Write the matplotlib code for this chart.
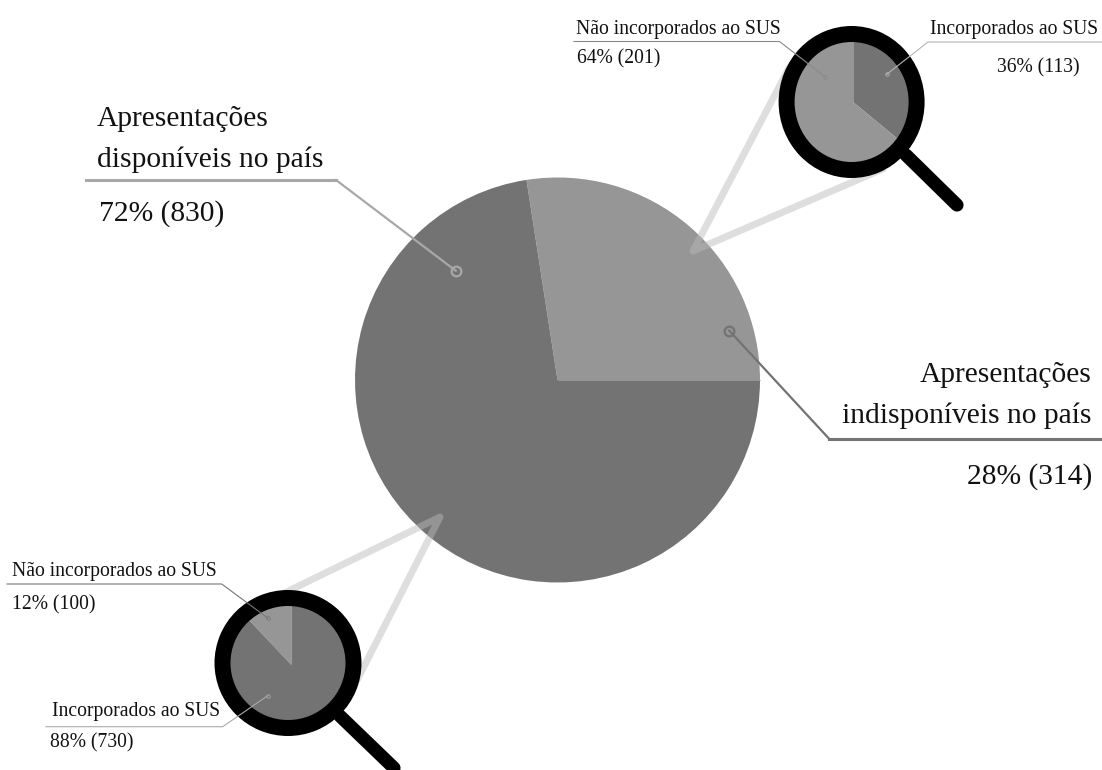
#!/usr/bin/python3

import matplotlib
matplotlib.use('Agg')
import matplotlib.pyplot as plt
from matplotlib.patches import Annulus

HEIGHT = 770
DARK = '#737373'
LIGHT = '#969696'

# counts per slice
main_values = [314, 830]
main_colors = [LIGHT, DARK]
top_values = [113, 201]
top_colors = [DARK, LIGHT]
bottom_values = [100, 730]
bottom_colors = [LIGHT, DARK]

title_left = ['Apresentações', 'disponíveis no país', '72% (830)']
title_right = ['Apresentações', 'indisponíveis no país', '28% (314)']
top_labels = ['Não incorporados ao SUS', '64% (201)', 'Incorporados ao SUS', '36% (113)']
bottom_labels = ['Não incorporados ao SUS', '12% (100)', 'Incorporados ao SUS', '88% (730)']

plt.rcParams['font.family'] = ['Liberation Serif', 'DejaVu Serif']

fig = plt.figure(figsize=(11.02, 7.70), dpi=100)
ax = fig.add_axes([0, 0, 1, 1])


def py(y):
    # positions below are measured from the top edge
    return HEIGHT - y


def beam(tip, end_a, end_b):
    # the pale cone running from the big pie to a magnifier
    ax.plot([end_a[0], tip[0], end_b[0]], [py(end_a[1]), py(tip[1]), py(end_b[1])],
            color='#bababa', alpha=0.48, lw=5, solid_capstyle='butt',
            solid_joinstyle='round', zorder=3)


def small_pie(values, colors, center, radius, counterclock):
    wedges, _ = ax.pie(values, colors=colors, center=(center[0], py(center[1])), radius=radius,
                       startangle=90, counterclock=counterclock, wedgeprops={'linewidth': 0})
    for w in wedges:
        w.set_zorder(4)


def magnifier(center, axes, width, handle_start, handle_end):
    ax.plot([handle_start[0], handle_end[0]], [py(handle_start[1]), py(handle_end[1])],
            color='black', lw=9.5, solid_capstyle='round', zorder=5)
    ax.add_patch(Annulus((center[0], py(center[1])), axes, width,
                         facecolor='black', edgecolor='none', zorder=5))


def leader(points, color, lw, dot_size=0, dot_lw=1.0):
    xs = [p[0] for p in points]
    ys = [py(p[1]) for p in points]
    ax.plot(xs, ys, color=color, lw=lw, solid_joinstyle='miter', zorder=6)
    ax.plot(xs[-1], ys[-1], 'o', ms=dot_size, mfc='none', mec=color, mew=dot_lw, zorder=6)


def label(x, y, text, size, ha='left'):
    ax.text(x, py(y), text, fontsize=size, ha=ha, va='baseline', color='#111111', zorder=7)


# Big pie
ax.pie(main_values, colors=main_colors, center=(557.5, py(380)), radius=202.5,
       startangle=0, counterclock=True, wedgeprops={'linewidth': 0})
ax.plot([557.5, 760], [py(380), py(380)], color='#a4a4a4', lw=0.5, zorder=2)

beam((693, 251), (790, 66), (885, 168))
beam((440, 517), (270, 600), (352, 690))

# Magnifier top right
small_pie(top_values, top_colors, (853, 102), 63, False)
ax.plot([853, 853], [py(102), py(42)], color='#a4a4a4', lw=0.5, zorder=4)
magnifier((851.6, 102), (73, 76), 16, (906, 155), (957, 205))

# Magnifier bottom left
small_pie(bottom_values, bottom_colors, (291.5, 665), 63, True)
magnifier((288, 663), (73.5, 73), 16, (340, 716), (394, 768))

# Leader lines
leader([(86, 180), (336, 180)], '#a8a8a8', 2.2)
leader([(336, 180), (455.7, 270.7)], '#a8a8a8', 1.6, 7, 1.6)
leader([(1102, 439), (829.3, 439)], '#737373', 2.2)
leader([(829.3, 439), (729.3, 330.7)], '#737373', 1.6, 7, 1.6)
leader([(574, 41.5), (779.5, 41.5), (825, 76.7)], '#8a8a8a', 0.8, 2.5, 0.6)
leader([(1102, 42), (928, 42), (886.7, 74.3)], '#b5b5b5', 0.8, 2.5, 0.6)
leader([(7, 584), (221.7, 584), (267.7, 618)], '#777777', 0.8, 2.5, 0.6)
leader([(46, 726.7), (222.7, 726.7), (267.7, 695.7)], '#aaaaaa', 0.8, 2.5, 0.6)

# Text
BIG = 21.25
SMALL = 14.1
label(97, 126, title_left[0], BIG)
label(97, 167, title_left[1], BIG)
label(99, 221, title_left[2], BIG)
label(1092, 382, title_right[0], BIG, ha='right')
label(1092, 423, title_right[1], BIG, ha='right')
label(1092, 484, title_right[2], BIG, ha='right')

label(576, 34, top_labels[0], SMALL)
label(577, 63, top_labels[1], SMALL)
label(1098.5, 34, top_labels[2], SMALL, ha='right')
label(1080, 72.5, top_labels[3], SMALL, ha='right')

label(11.5, 576, bottom_labels[0], SMALL)
label(12, 609, bottom_labels[1], SMALL)
label(220, 716, bottom_labels[2], SMALL, ha='right')
label(49.5, 747, bottom_labels[3], SMALL)

ax.set_xlim(0, 1102)
ax.set_ylim(0, HEIGHT)
ax.set_aspect('equal')
ax.axis('off')

fig.savefig('out.png', dpi=100, facecolor='white')
